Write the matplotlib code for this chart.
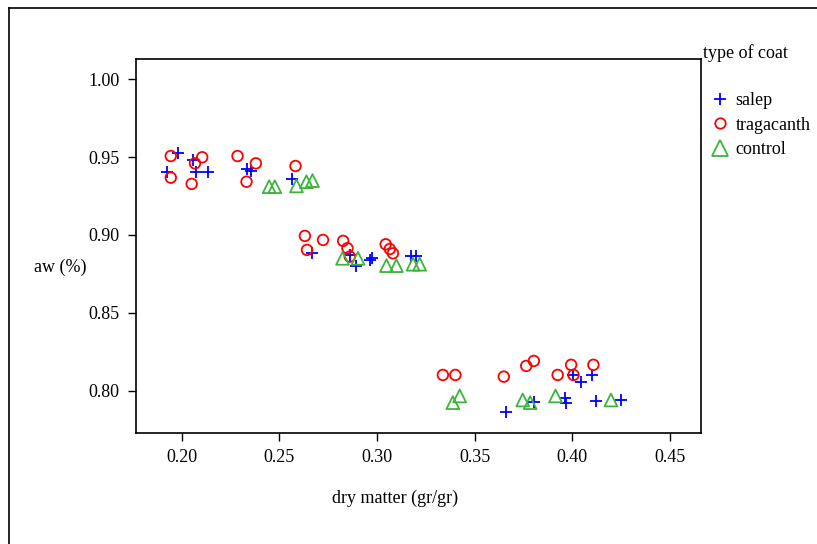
import matplotlib
matplotlib.use("Agg")
import matplotlib.pyplot as plt
from matplotlib.lines import Line2D

# water activity vs dry matter, three coatings
salep_x = [0.1983, 0.2056, 0.1923, 0.2073, 0.2136, 0.2332, 0.2354, 0.2563,
           0.2665, 0.2861, 0.2892, 0.2963, 0.2977, 0.3176, 0.3202,
           0.3662, 0.3804, 0.3966, 0.3969, 0.4003, 0.4046, 0.4102, 0.4123, 0.4251]
salep_y = [0.9529, 0.9482, 0.9403, 0.9403, 0.9403, 0.9422, 0.9413, 0.9358,
           0.8882, 0.8872, 0.8803, 0.8839, 0.8850, 0.8867, 0.8867,
           0.7861, 0.7929, 0.7951, 0.7923, 0.8101, 0.8058, 0.8101, 0.7936, 0.7940]

trag_x = [0.1944, 0.1944, 0.2068, 0.2105, 0.2051, 0.2286, 0.2380, 0.2332, 0.2583,
          0.2631, 0.2724, 0.2827, 0.2642, 0.2849, 0.2861, 0.3045, 0.3066, 0.3082,
          0.3338, 0.3402, 0.3650, 0.3765, 0.3804, 0.3926, 0.3995, 0.4007, 0.4109]
trag_y = [0.9507, 0.9368, 0.9460, 0.9499, 0.9328, 0.9507, 0.9460, 0.9342, 0.9443,
          0.8994, 0.8968, 0.8962, 0.8904, 0.8915, 0.8861, 0.8940, 0.8910, 0.8882,
          0.8101, 0.8101, 0.8090, 0.8159, 0.8191, 0.8101, 0.8166, 0.8101, 0.8166]

ctrl_x = [0.2448, 0.2477, 0.2588, 0.2639, 0.2670,
          0.2824, 0.2903, 0.3049, 0.3100, 0.3185, 0.3219,
          0.3389, 0.3424, 0.3747, 0.3785, 0.3915, 0.4199]
ctrl_y = [0.9310, 0.9310, 0.9315, 0.9342, 0.9349,
          0.8850, 0.8850, 0.8803, 0.8803, 0.8812, 0.8812,
          0.7923, 0.7966, 0.7940, 0.7923, 0.7966, 0.7940]

x_ticks = [0.20, 0.25, 0.30, 0.35, 0.40, 0.45]
y_ticks = [0.80, 0.85, 0.90, 0.95, 1.00]

BLUE = "#0000FF"
RED = "#FF0000"
GREEN = "#3CB43C"

plt.rcParams["font.family"] = ["Liberation Serif", "DejaVu Serif"]

fig = plt.figure(figsize=(8.17, 5.44), dpi=100)
ax = fig.add_axes([0.1665, 0.2046, 0.6912, 0.6869])

ax.scatter(salep_x, salep_y, marker="+", s=70, color=BLUE, linewidths=1.3)
ax.scatter(trag_x, trag_y, marker="o", s=58, facecolors="none",
           edgecolors=RED, linewidths=1.3)
ax.scatter(ctrl_x, ctrl_y, marker="^", s=85, facecolors="none",
           edgecolors=GREEN, linewidths=1.3)

ax.set_xlim(0.1766, 0.4659)
ax.set_ylim(0.773, 1.013)
ax.set_xticks(x_ticks)
ax.set_xticklabels([f"{v:.2f}" for v in x_ticks])
ax.set_yticks(y_ticks)
ax.set_yticklabels([f"{v:.2f}" for v in y_ticks])
ax.tick_params(direction="out", length=6, width=1, labelsize=13, pad=6)
for sp in ax.spines.values():
    sp.set_linewidth(1.2)

fig.text(395 / 817, 1 - 498 / 544, "dry matter (gr/gr)", ha="center",
         va="center", fontsize=13)
fig.text(34 / 817, 1 - 267 / 544, "aw (%)", ha="left", va="center", fontsize=13)

# legend: title placed separately, entries below
fig.text(703 / 817, 1 - 58 / 544, "type of coat", ha="left", va="baseline",
         fontsize=13)
handles = [
    Line2D([], [], marker="+", linestyle="none", color=BLUE, markersize=8.5,
           markeredgewidth=1.3),
    Line2D([], [], marker="o", linestyle="none", markerfacecolor="none",
           markeredgecolor=RED, markersize=7.5, markeredgewidth=1.3),
    Line2D([], [], marker="^", linestyle="none", markerfacecolor="none",
           markeredgecolor=GREEN, markersize=11, markeredgewidth=1.3),
]
fig.legend(handles, ["salep", "tragacanth", "control"], loc="upper left",
           bbox_to_anchor=(711 / 817, 1 - 92 / 544), frameon=False,
           fontsize=13, handlelength=1.0, handletextpad=0.35,
           labelspacing=0.42, borderpad=0, borderaxespad=0)

# outer frame lines (left and top)
fig.add_artist(Line2D([9 / 817, 9 / 817], [0, 1 - 8 / 544], color="black",
                      linewidth=1.2, transform=fig.transFigure))
fig.add_artist(Line2D([9 / 817, 1], [1 - 8 / 544, 1 - 8 / 544], color="black",
                      linewidth=1.2, transform=fig.transFigure))

fig.savefig("out.png", dpi=100)
